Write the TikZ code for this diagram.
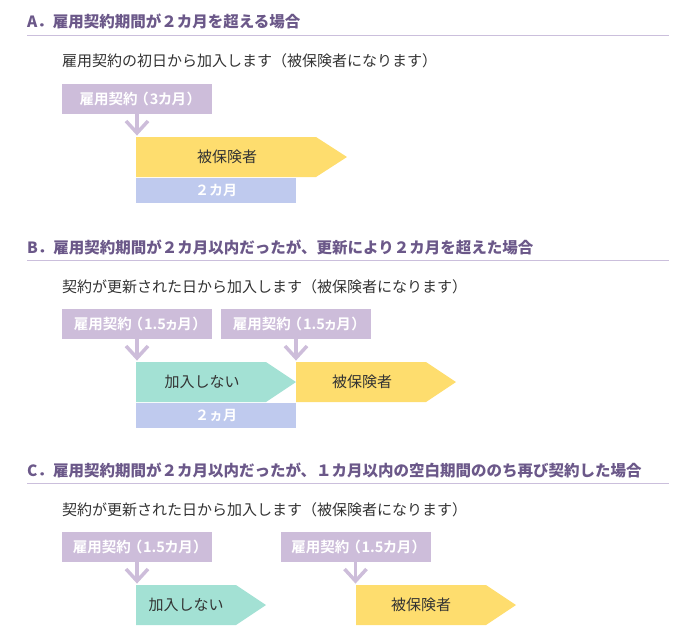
\documentclass[tikz,border=0pt]{standalone}
\usepackage{fontspec}
\setmainfont{Noto Sans CJK JP}
\newfontfamily\boxfont[RawFeature=+palt]{Noto Sans CJK JP Bold}
\newfontfamily\monfont{Noto Sans CJK JP Bold}
\newcommand\lpar{\hspace{3.5pt}（\hspace{1.5pt}}
\newcommand\rpar{\hspace{1pt}）}
\usetikzlibrary{calc}
\definecolor{ttl}{HTML}{6B5889}
\definecolor{rule}{HTML}{CBBFDC}
\definecolor{pbox}{HTML}{CDBDDA}
\definecolor{yel}{HTML}{FEDD6E}
\definecolor{grn}{HTML}{A3E1D4}
\definecolor{blu}{HTML}{BFCAEE}
\definecolor{txt}{HTML}{333333}
\tikzset{
  ttlnode/.style={anchor=west,inner sep=0,text=ttl,font=\fontsize{15.5}{18}\selectfont\bfseries},
  subnode/.style={anchor=west,inner sep=0,text=txt,font=\fontsize{15}{18}\selectfont},
  cbox/.style={fill=pbox,text=white,inner sep=0,minimum width=150pt,minimum height=30pt,font=\boxfont\fontsize{14.5}{17}\selectfont},
  mbox/.style={fill=blu,text=white,inner sep=0,minimum width=160pt,minimum height=25pt,font=\monfont\fontsize{14}{16}\selectfont},
  lbl/.style={inner sep=0,text=txt,font=\fontsize{15}{17}\selectfont},
  conn/.style={draw=pbox,line width=3.5pt,miter limit=10},
  rulel/.style={draw=rule,line width=1pt}
}
\begin{document}
\begin{tikzpicture}[x=1pt,y=-1pt]
\useasboundingbox (0,0) rectangle (695,625);
% ---------- A ----------
\node[ttlnode] (tA) at (27,21) {A．雇用契約期間が２カ月を超える場合};
\coordinate (rA1) at (27,35); \coordinate (rA2) at (669,35);
\draw[rulel] (rA1) -- (rA2);
\node[subnode] (sA) at (62,61) {雇用契約の初日から加入します（被保険者になります）};
\node[cbox] (cA) at (137,99) {雇用契約\lpar 3カ月\rpar};
\fill[yel] (136,137) -- (316,137) -- (347,157) -- (316,177) -- (136,177) -- cycle;
\node[lbl] (yA) at (227,157) {被保険者};
\node[mbox] (mA) at (216,190.5) {２カ月};
\coordinate (kA) at (137,133);
\draw[conn] (cA.south) -- (kA);
\draw[conn] ([shift={(-11,-12)}]kA) -- (kA) -- ([shift={(11,-12)}]kA);
% ---------- B ----------
\node[ttlnode] (tB) at (27,247) {B．雇用契約期間が２カ月以内だったが、更新により２カ月を超えた場合};
\coordinate (rB1) at (27,260); \coordinate (rB2) at (669,260);
\draw[rulel] (rB1) -- (rB2);
\node[subnode] (sB) at (62,287) {契約が更新された日から加入します（被保険者になります）};
\node[cbox] (cB1) at (137,324) {雇用契約\lpar 1.5ヵ月\rpar};
\node[cbox] (cB2) at (296,324) {雇用契約\lpar 1.5ヵ月\rpar};
\fill[grn] (136,362) -- (266,362) -- (296,382) -- (266,402) -- (136,402) -- cycle;
\fill[yel] (296,362) -- (426,362) -- (456,382) -- (426,402) -- (296,402) -- cycle;
\node[lbl] (gB) at (202,382) {加入しない};
\node[lbl] (yB) at (362,382) {被保険者};
\node[mbox] (mB) at (216,415.5) {２ヵ月};
\coordinate (kB1) at (137,358);
\coordinate (kB2) at (296,358);
\draw[conn] (cB1.south) -- (kB1);
\draw[conn] ([shift={(-11,-12)}]kB1) -- (kB1) -- ([shift={(11,-12)}]kB1);
\draw[conn] (cB2.south) -- (kB2);
\draw[conn] ([shift={(-11,-12)}]kB2) -- (kB2) -- ([shift={(11,-12)}]kB2);
% ---------- C ----------
\node[ttlnode] (tC) at (27,470) {C．雇用契約期間が２カ月以内だったが、１カ月以内の空白期間ののち再び契約した場合};
\coordinate (rC1) at (27,483); \coordinate (rC2) at (669,483);
\draw[rulel] (rC1) -- (rC2);
\node[subnode] (sC) at (62,510) {契約が更新された日から加入します（被保険者になります）};
\node[cbox] (cC1) at (137,547) {雇用契約\lpar 1.5カ月\rpar};
\node[cbox] (cC2) at (355.5,547) {雇用契約\lpar 1.5カ月\rpar};
\fill[grn] (136,585) -- (236,585) -- (266,605) -- (236,625) -- (136,625) -- cycle;
\fill[yel] (356,585) -- (486,585) -- (516,605) -- (486,625) -- (356,625) -- cycle;
\node[lbl] (gC) at (186,605) {加入しない};
\node[lbl] (yC) at (421,605) {被保険者};
\coordinate (kC1) at (137,581);
\coordinate (kC2) at (355.5,581);
\draw[conn] (cC1.south) -- (kC1);
\draw[conn] ([shift={(-11,-12)}]kC1) -- (kC1) -- ([shift={(11,-12)}]kC1);
\draw[conn] (cC2.south) -- (kC2);
\draw[conn] ([shift={(-11,-12)}]kC2) -- (kC2) -- ([shift={(11,-12)}]kC2);
\end{tikzpicture}
\end{document}
